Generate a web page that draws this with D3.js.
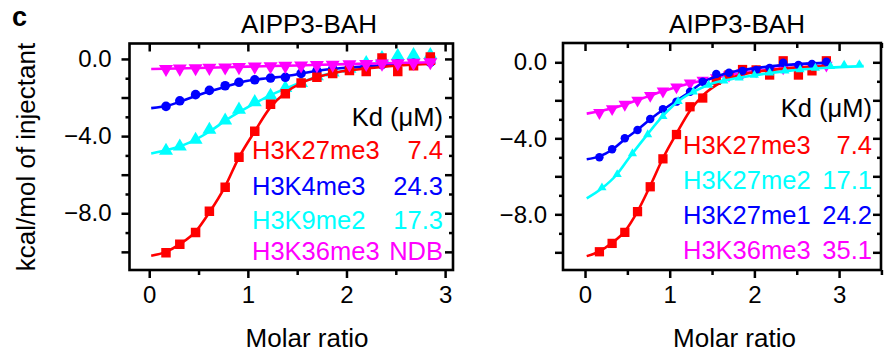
<!DOCTYPE html>
<html><head><meta charset="utf-8">
<script src="https://cdn.jsdelivr.net/npm/d3@7"></script>
<style>
body{margin:0;background:#fff}
svg{display:block}
text{font-family:"Liberation Sans",Arial,Helvetica,sans-serif}
</style>
</head><body>
<svg id="chart" width="889" height="355"></svg>
<script>
// ---------------- DATA ----------------
const panelTitles = ["AIPP3-BAH", "AIPP3-BAH"];
const xTickValues = [0, 1, 2, 3];
const yLabelTicks = [0, -4, -8];
const xAxisTitle = "Molar ratio";
const yAxisTitle = "kcal/mol of injectant";
const panelLetter = "c";
const kdHeader = "Kd (\u03bcM)";

// Left panel
const leftNames = ["H3K27me3", "H3K4me3", "H3K9me2", "H3K36me3"];
const leftKd = ["7.4", "24.3", "17.3", "NDB"];
const leftX = [0.17,0.31,0.47,0.61,0.77,0.91,1.07,1.23,1.38,1.54,1.70,1.86,2.03,2.20,2.36,2.52,2.68,2.85];
const leftRedY  = [-10.05,-9.6,-9.0,-7.9,-6.65,-5.1,-3.75,-2.35,-1.8,-1.25,-0.95,-0.75,-0.6,-0.65,0.05,-0.65,-0.35,0.1];
const leftBlueY = [-2.46,-2.17,-1.85,-1.63,-1.39,-1.21,-1.08,-0.99,-0.95,-0.75,-0.62,-0.52,-0.44,-0.36,-0.3,-0.25,-0.22,-0.18];
const leftCyanY = [-4.76,-4.54,-4.19,-3.67,-3.19,-2.63,-2.24,-1.91,-1.51,-1.25,-0.9,-0.7,-0.5,-0.21,0.05,0.15,0.2,0.2];
const leftMagY  = [-0.52,-0.5,-0.48,-0.46,-0.44,-0.42,-0.4,-0.38,-0.36,-0.34,-0.32,-0.3,-0.28,-0.26,-0.24,-0.22,-0.2,-0.17];
const leftRedFitX  = [0.02,0.17,0.31,0.47,0.61,0.77,0.91,1.07,1.23,1.38,1.54,1.7,1.9,2.2,2.5,2.9];
const leftRedFitY  = [-10.2,-10.0,-9.6,-8.95,-7.95,-6.6,-5.1,-3.75,-2.5,-1.75,-1.25,-0.95,-0.7,-0.5,-0.35,-0.25];
const leftBlueFitX = [0.02,0.2,0.4,0.6,0.8,1.0,1.2,1.4,1.6,1.8,2.0,2.4,2.9];
const leftBlueFitY = [-2.55,-2.4,-2.05,-1.7,-1.4,-1.13,-1.0,-0.88,-0.7,-0.55,-0.45,-0.32,-0.2];
const leftCyanFitX = [0.02,0.2,0.4,0.6,0.8,1.0,1.2,1.4,1.6,1.8,2.0,2.4,2.9];
const leftCyanFitY = [-4.9,-4.7,-4.35,-3.8,-3.1,-2.5,-1.95,-1.5,-1.1,-0.8,-0.6,-0.35,-0.2];
const leftMagFitX  = [0.02,0.5,1.0,1.5,2.0,2.5,2.9];
const leftMagFitY  = [-0.52,-0.47,-0.4,-0.34,-0.27,-0.21,-0.17];

// Right panel
const rightNames = ["H3K27me3", "H3K27me2", "H3K27me1", "H3K36me3"];
const rightKd = ["7.4", "17.1", "24.2", "35.1"];
const rightX = [0.17,0.32,0.47,0.62,0.77,0.92,1.08,1.24,1.39,1.55,1.70,1.86,2.02,2.18,2.34,2.52,2.68,2.85];
const rightCyanX = [0.20,0.38,0.56,0.74,0.92,1.10,1.28,1.46,1.64,1.82,2.00,2.18,2.36,2.54,2.72,2.90,3.06,3.24];
const rightRedY  = [-9.97,-9.53,-8.95,-7.86,-6.55,-5.08,-3.8,-2.34,-1.88,-0.95,-0.67,-0.38,-0.4,-0.67,0.08,-0.67,-0.45,0.08];
const rightCyanY = [-6.6,-5.9,-4.8,-3.8,-2.85,-2.05,-1.55,-1.2,-0.98,-0.82,-0.68,-0.55,-0.45,-0.38,-0.3,-0.22,-0.14,-0.12];
const rightBlueY = [-5.0,-4.58,-4.0,-3.56,-2.98,-2.47,-2.07,-1.55,-1.02,-0.62,-0.55,-0.45,-0.4,-0.3,-0.02,-0.14,-0.09,0.03];
const rightMagY  = [-2.65,-2.45,-2.22,-2.0,-1.75,-1.52,-1.3,-1.1,-0.95,-0.82,-0.68,-0.56,-0.46,-0.38,-0.3,-0.24,-0.2,-0.16];
const rightRedFitX  = [0.02,0.17,0.32,0.47,0.62,0.77,0.92,1.08,1.24,1.39,1.55,1.7,1.9,2.2,2.5,2.85];
const rightRedFitY  = [-10.2,-9.95,-9.5,-8.9,-7.85,-6.5,-5.05,-3.75,-2.55,-1.75,-1.2,-0.85,-0.6,-0.4,-0.28,-0.2];
const rightCyanFitX = [0.02,0.2,0.37,0.53,0.73,0.93,1.12,1.32,1.51,1.71,2.0,2.4,2.8,3.29];
const rightCyanFitY = [-7.16,-6.63,-5.93,-4.97,-3.83,-2.77,-1.98,-1.46,-1.1,-0.9,-0.68,-0.45,-0.3,-0.2];
const rightBlueFitX = [0.02,0.17,0.32,0.47,0.62,0.77,0.92,1.08,1.24,1.39,1.55,1.75,2.0,2.34,2.85];
const rightBlueFitY = [-5.1,-4.95,-4.6,-4.05,-3.55,-3.0,-2.5,-2.02,-1.55,-1.05,-0.75,-0.5,-0.32,-0.15,-0.03];
const rightMagFitX  = [0.02,0.3,0.6,0.9,1.2,1.5,1.8,2.1,2.5,2.85];
const rightMagFitY  = [-2.7,-2.45,-2.02,-1.55,-1.15,-0.85,-0.6,-0.42,-0.28,-0.18];

// ---------------- STYLE / LAYOUT ----------------
const RED = "#ff0000", BLUE = "#0000ff", CYAN = "#00ffff", MAG = "#ff00ff";
const FONT_TICK = 24, FONT_LABEL = 26, FONT_LEG = 25.5;
const svg = d3.select("#chart");

function zip(xs, ys){ return xs.map((x,i)=>({x, y: ys[i]})); }

const panels = [
  {
    x0: 129.5, x1: 453, y0: 43.5, y1: 270,
    xDomain: [-0.2, 3.08], yDomain: [-10.94, 0.8],
    minorX: [0.5, 1.5, 2.5],
    title: panelTitles[0], titleX: 309, xTitleX: 307,
    yLabelGap: 10, showYTitle: true,
    legendRight: 443, legendLeft: 252, kdY: 126, rowsY: [159, 195, 229, 260],
    names: leftNames, kds: leftKd, nameColors: [RED, BLUE, CYAN, MAG],
    series: [
      {color: CYAN, sym: "tri", size: 85, pts: zip(leftX, leftCyanY), fit: zip(leftCyanFitX, leftCyanFitY)},
      {color: BLUE, sym: "circle", size: 72, pts: zip(leftX, leftBlueY), fit: zip(leftBlueFitX, leftBlueFitY)},
      {color: RED, sym: "square", size: 90, pts: zip(leftX, leftRedY), fit: zip(leftRedFitX, leftRedFitY)},
      {color: MAG, sym: "down", size: 85, pts: zip(leftX, leftMagY), fit: zip(leftMagFitX, leftMagFitY)}
    ]
  },
  {
    x0: 563, x1: 881, y0: 43, y1: 270,
    xDomain: [-0.26, 3.495], yDomain: [-10.93, 1.016],
    minorX: [0.5, 1.5, 2.5, 3.5],
    title: panelTitles[1], titleX: 737, xTitleX: 734.5,
    yLabelGap: 8, showYTitle: false,
    legendRight: 872, legendLeft: 683, kdY: 117, rowsY: [154, 189, 224, 259],
    names: rightNames, kds: rightKd, nameColors: [RED, CYAN, BLUE, MAG],
    series: [
      {color: MAG, sym: "down", size: 68, pts: zip(rightX, rightMagY), fit: zip(rightMagFitX, rightMagFitY)},
      {color: RED, sym: "square", size: 86, pts: zip(rightX, rightRedY), fit: zip(rightRedFitX, rightRedFitY)},
      {color: BLUE, sym: "circle", size: 56, pts: zip(rightX, rightBlueY), fit: zip(rightBlueFitX, rightBlueFitY)},
      {color: CYAN, sym: "tri", size: 36, pts: zip(rightCyanX, rightCyanY), fit: zip(rightCyanFitX, rightCyanFitY)}
    ]
  }
];

const symTypes = {square: d3.symbolSquare, circle: d3.symbolCircle, tri: d3.symbolTriangle, down: d3.symbolTriangle};
const fmt = d3.format(".1f");

panels.forEach(p => {
  const x = d3.scaleLinear().domain(p.xDomain).range([p.x0, p.x1]);
  const y = d3.scaleLinear().domain(p.yDomain).range([p.y1, p.y0]);
  const g = svg.append("g");

  const cid = "clip" + Math.round(p.x0);
  svg.append("clipPath").attr("id", cid).append("rect")
    .attr("x", p.x0).attr("y", p.y0).attr("width", p.x1 - p.x0).attr("height", p.y1 - p.y0);

  const yMajor = [0, -2, -4, -6, -8, -10];
  const yMinor = [-1, -3, -5, -7, -9];

  const axL = g.append("g").attr("transform", `translate(${p.x0},0)`)
    .call(d3.axisLeft(y).tickValues(yMajor).tickSize(8).tickPadding(p.yLabelGap)
      .tickFormat(d => yLabelTicks.includes(d) ? fmt(d) : ""));
  const axLm = g.append("g").attr("transform", `translate(${p.x0},0)`)
    .call(d3.axisLeft(y).tickValues(yMinor).tickSize(4).tickFormat(""));
  const axR = g.append("g").attr("transform", `translate(${p.x1},0)`)
    .call(d3.axisRight(y).tickValues(yMajor).tickSize(-8).tickFormat(""));
  const axRm = g.append("g").attr("transform", `translate(${p.x1},0)`)
    .call(d3.axisRight(y).tickValues(yMinor).tickSize(-4).tickFormat(""));
  const axB = g.append("g").attr("transform", `translate(0,${p.y1})`)
    .call(d3.axisBottom(x).tickValues(xTickValues).tickSize(8).tickPadding(8).tickFormat(d3.format("d")));
  const axBm = g.append("g").attr("transform", `translate(0,${p.y1})`)
    .call(d3.axisBottom(x).tickValues(p.minorX).tickSize(5).tickFormat(""));
  const axT = g.append("g").attr("transform", `translate(0,${p.y0})`)
    .call(d3.axisTop(x).tickValues(xTickValues).tickSize(-8).tickFormat(""));
  const axTm = g.append("g").attr("transform", `translate(0,${p.y0})`)
    .call(d3.axisTop(x).tickValues(p.minorX).tickSize(-5).tickFormat(""));

  [axL, axLm, axR, axRm, axB, axBm, axT, axTm].forEach(a => {
    a.select(".domain").remove();
    a.selectAll("line").attr("stroke", "#000").attr("stroke-width", 2.5);
    a.selectAll("text").attr("font-size", FONT_TICK).attr("fill", "#000")
      .style("font-family", '"Liberation Sans",Arial,Helvetica,sans-serif');
  });

  g.append("rect").attr("x", p.x0).attr("y", p.y0)
    .attr("width", p.x1 - p.x0).attr("height", p.y1 - p.y0)
    .attr("fill", "none").attr("stroke", "#000").attr("stroke-width", 2.6);

  const line = d3.line().x(d => x(d.x)).y(d => y(d.y)).curve(d3.curveMonotoneX);
  const plot = g.append("g").attr("clip-path", `url(#${cid})`);
  p.series.forEach(s => {
    plot.append("path").datum(s.fit).attr("d", line)
      .attr("fill", "none").attr("stroke", s.color).attr("stroke-width", 2.6);
    plot.selectAll(null).data(s.pts).enter().append("path")
      .attr("d", d3.symbol().type(symTypes[s.sym]).size(s.size))
      .attr("transform", d => `translate(${x(d.x)},${y(d.y)})` + (s.sym === "down" ? " rotate(180)" : ""))
      .attr("fill", s.color);
  });

  svg.append("text").attr("x", p.titleX).attr("y", 33).attr("text-anchor", "middle")
    .attr("font-size", FONT_LABEL).text(p.title);
  svg.append("text").attr("x", p.xTitleX).attr("y", 347).attr("text-anchor", "middle")
    .attr("font-size", FONT_LABEL).text(xAxisTitle);

  svg.append("text").attr("x", p.legendRight).attr("y", p.kdY).attr("text-anchor", "end")
    .attr("font-size", FONT_LEG).attr("fill", "#000").text(kdHeader);
  p.names.forEach((n, i) => {
    svg.append("text").attr("x", p.legendLeft).attr("y", p.rowsY[i])
      .attr("font-size", FONT_LEG).attr("fill", p.nameColors[i]).text(n);
    svg.append("text").attr("x", p.legendRight).attr("y", p.rowsY[i]).attr("text-anchor", "end")
      .attr("font-size", FONT_LEG).attr("fill", p.nameColors[i]).text(p.kds[i]);
  });

  if (p.showYTitle) {
    svg.append("text").attr("transform", `translate(35,157) rotate(-90)`)
      .attr("text-anchor", "middle").attr("font-size", FONT_LABEL).text(yAxisTitle);
  }
});

svg.append("text").attr("x", 12).attr("y", 26).attr("font-size", 27)
  .attr("font-weight", "bold").text(panelLetter);
</script>
</body></html>
